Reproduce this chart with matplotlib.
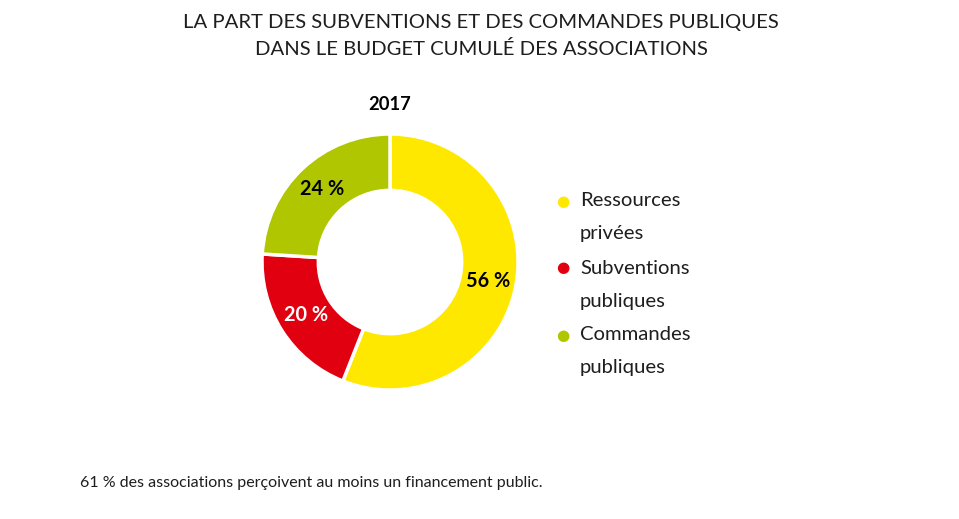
import matplotlib
matplotlib.use('agg')
import matplotlib.pyplot as plt

# data
categories = ['Ressources\nprivées', 'Subventions\npubliques', 'Commandes\npubliques']
shares = [56, 20, 24]
colors = ['#FFE800', '#E1000F', '#B0C600']
label_colors = ['black', 'white', 'black']
year = '2017'
title = 'LA PART DES SUBVENTIONS ET DES COMMANDES PUBLIQUES\nDANS LE BUDGET CUMULÉ DES ASSOCIATIONS'
note = '61 % des associations perçoivent au moins un financement public.'

plt.rcParams['font.family'] = ['Lato', 'DejaVu Sans']

W, H = 959, 519
fig = plt.figure(figsize=(W / 100, H / 100), dpi=100)
fig.patch.set_facecolor('white')

# donut: centre (390, 262), outer radius 128 px
cx, cy, r = 390, 262, 128
ax = fig.add_axes([(cx - r) / W, (H - cy - r) / H, 2 * r / W, 2 * r / H])
wedges, texts, autotexts = ax.pie(
    shares, colors=colors, startangle=90, counterclock=False,
    wedgeprops=dict(width=0.44, edgecolor='white', linewidth=2.5),
    autopct=lambda p: '%d %%' % round(p), pctdistance=0.78,
    textprops=dict(fontsize=14.3, fontweight='bold'))
for t, c in zip(autotexts, label_colors):
    t.set_color(c)
ax.set_xlim(-1, 1)
ax.set_ylim(-1, 1)
ax.axis('off')

fig.text(481 / W, 1 - 36 / H, title, ha='center', va='center',
         fontsize=14.6, linespacing=1.55, color='#1e1e1e')
fig.text(cx / W, 1 - 104 / H, year, ha='center', va='center',
         fontsize=13.2, fontweight='bold', color='black')

# legend
for i, (lab, col) in enumerate(zip(categories, colors)):
    y = 201 + i * 67
    fig.text(563 / W, 1 - y / H, '●', ha='center', va='center',
             fontsize=11, color=col, family='DejaVu Sans')
    for k, line in enumerate(lab.split('\n')):
        fig.text(580 / W, 1 - (y + 33 * k) / H, line, ha='left', va='center',
                 fontsize=14.6, color='#1e1e1e')

fig.text(80 / W, 1 - 483 / H, note, ha='left', va='center',
         fontsize=11.5, color='#1e1e1e')

plt.savefig('out.png', dpi=100)
